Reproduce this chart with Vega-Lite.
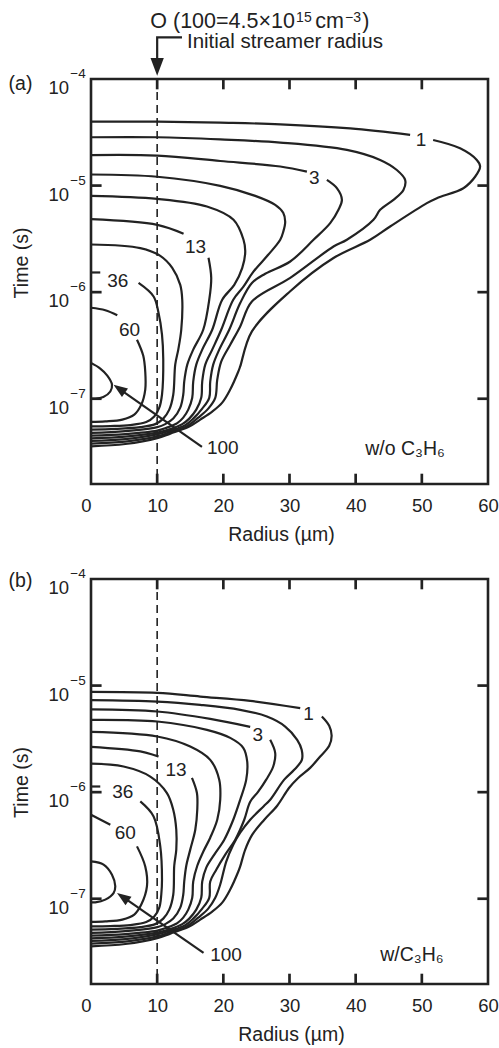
{
"$schema": "https://vega.github.io/schema/vega-lite/v6.json",
"autosize": {"type": "none"},
"padding": {"left": 91, "top": 79, "right": 408, "bottom": 969},
"background": "white",
"spacing": 95,
"bounds": "flush",
"config": {
  "view": {"stroke": "#222", "strokeWidth": 2.6},
  "font": "Liberation Sans",
  "axis": {"labelFont": "Liberation Sans", "titleFont": "Liberation Sans", "labelColor": "#222", "titleColor": "#222", "ticks": false, "domain": false, "grid": false, "titleFontWeight": "normal"}
},
"datasets": {
  "vl": [{"x": 10}],
  "ytk": [{"t": 1e-7}, {"t": 1e-6}, {"t": 1e-5}],
  "xtk": [{"x": 10}, {"x": 20}, {"x": 30}, {"x": 40}, {"x": 50}],
  "cont": [
{"p":"a","c":"a1-1","o":0,"x":0,"t":3.98e-5},{"p":"a","c":"a1-1","o":1,"x":10.02,"t":3.98e-5},{"p":"a","c":"a1-1","o":2,"x":19.53,"t":3.89e-5},{"p":"a","c":"a1-1","o":3,"x":28.6,"t":3.76e-5},{"p":"a","c":"a1-1","o":4,"x":39.17,"t":3.44e-5},{"p":"a","c":"a1-1","o":5,"x":48.23,"t":2.99e-5},
{"p":"a","c":"a1-2","o":0,"x":51.71,"t":2.68e-5},{"p":"a","c":"a1-2","o":1,"x":55.78,"t":2.24e-5},{"p":"a","c":"a1-2","o":2,"x":58.31,"t":1.74e-5},{"p":"a","c":"a1-2","o":3,"x":58.81,"t":1.51e-5},{"p":"a","c":"a1-2","o":4,"x":58.05,"t":1.21e-5},{"p":"a","c":"a1-2","o":5,"x":56.28,"t":9.45e-6},{"p":"a","c":"a1-2","o":6,"x":52.27,"t":7.62e-6},{"p":"a","c":"a1-2","o":7,"x":50.76,"t":6.84e-6},{"p":"a","c":"a1-2","o":8,"x":45.21,"t":4.13e-6},{"p":"a","c":"a1-2","o":9,"x":42.19,"t":3.10e-6},{"p":"a","c":"a1-2","o":10,"x":36.65,"t":2.09e-6},{"p":"a","c":"a1-2","o":11,"x":30.11,"t":1.02e-6},{"p":"a","c":"a1-2","o":12,"x":24.32,"t":4.28e-7},{"p":"a","c":"a1-2","o":13,"x":22.55,"t":2.01e-7},{"p":"a","c":"a1-2","o":14,"x":22.25,"t":1.79e-7},{"p":"a","c":"a1-2","o":15,"x":21.04,"t":1.22e-7},{"p":"a","c":"a1-2","o":16,"x":19.83,"t":9.19e-8},{"p":"a","c":"a1-2","o":17,"x":18.32,"t":7.57e-8},{"p":"a","c":"a1-2","o":18,"x":16.51,"t":6.37e-8},{"p":"a","c":"a1-2","o":19,"x":14.7,"t":5.42e-8},{"p":"a","c":"a1-2","o":20,"x":11.98,"t":4.71e-8},{"p":"a","c":"a1-2","o":21,"x":10.02,"t":4.27e-8},{"p":"a","c":"a1-2","o":22,"x":5.18,"t":3.76e-8},{"p":"a","c":"a1-2","o":23,"x":0,"t":3.58e-8},
{"p":"a","c":"a2","o":0,"x":0,"t":2.84e-5},{"p":"a","c":"a2","o":1,"x":10.02,"t":2.84e-5},{"p":"a","c":"a2","o":2,"x":19.53,"t":2.71e-5},{"p":"a","c":"a2","o":3,"x":28.6,"t":2.53e-5},{"p":"a","c":"a2","o":4,"x":38.67,"t":2.16e-5},{"p":"a","c":"a2","o":5,"x":43.7,"t":1.74e-5},{"p":"a","c":"a2","o":6,"x":46.22,"t":1.40e-5},{"p":"a","c":"a2","o":7,"x":47.48,"t":1.13e-5},{"p":"a","c":"a2","o":8,"x":47.22,"t":9.11e-6},{"p":"a","c":"a2","o":9,"x":45.71,"t":7.35e-6},{"p":"a","c":"a2","o":10,"x":43.7,"t":5.92e-6},{"p":"a","c":"a2","o":11,"x":42.69,"t":4.77e-6},{"p":"a","c":"a2","o":12,"x":38.67,"t":3.10e-6},{"p":"a","c":"a2","o":13,"x":36.65,"t":2.68e-6},{"p":"a","c":"a2","o":14,"x":30.11,"t":1.36e-6},{"p":"a","c":"a2","o":15,"x":24.32,"t":8.18e-7},{"p":"a","c":"a2","o":16,"x":22.55,"t":4.77e-7},{"p":"a","c":"a2","o":17,"x":21.04,"t":3.21e-7},{"p":"a","c":"a2","o":18,"x":19.68,"t":2.23e-7},{"p":"a","c":"a2","o":19,"x":19.08,"t":1.51e-7},{"p":"a","c":"a2","o":20,"x":18.78,"t":1.02e-7},{"p":"a","c":"a2","o":21,"x":17.72,"t":8.08e-8},{"p":"a","c":"a2","o":22,"x":16.21,"t":6.65e-8},{"p":"a","c":"a2","o":23,"x":14.55,"t":5.54e-8},{"p":"a","c":"a2","o":24,"x":11.98,"t":4.86e-8},{"p":"a","c":"a2","o":25,"x":10.02,"t":4.43e-8},{"p":"a","c":"a2","o":26,"x":5.18,"t":3.96e-8},{"p":"a","c":"a2","o":27,"x":0,"t":3.80e-8},
{"p":"a","c":"a3-1","o":0,"x":0,"t":1.93e-5},{"p":"a","c":"a3-1","o":1,"x":10.02,"t":1.91e-5},{"p":"a","c":"a3-1","o":2,"x":19.53,"t":1.70e-5},{"p":"a","c":"a3-1","o":3,"x":28.6,"t":1.51e-5},{"p":"a","c":"a3-1","o":4,"x":32.63,"t":1.35e-5},
{"p":"a","c":"a3-2","o":0,"x":35.65,"t":1.13e-5},{"p":"a","c":"a3-2","o":1,"x":37.16,"t":9.45e-6},{"p":"a","c":"a3-2","o":2,"x":37.92,"t":7.35e-6},{"p":"a","c":"a3-2","o":3,"x":37.4,"t":5.92e-6},{"p":"a","c":"a3-2","o":4,"x":36.15,"t":4.44e-6},{"p":"a","c":"a3-2","o":5,"x":33.63,"t":3.10e-6},{"p":"a","c":"a3-2","o":6,"x":30.11,"t":1.94e-6},{"p":"a","c":"a3-2","o":7,"x":26.33,"t":1.49e-6},{"p":"a","c":"a3-2","o":8,"x":24.32,"t":1.22e-6},{"p":"a","c":"a3-2","o":9,"x":22.55,"t":7.90e-7},{"p":"a","c":"a3-2","o":10,"x":20.89,"t":4.44e-7},{"p":"a","c":"a3-2","o":11,"x":19.38,"t":2.89e-7},{"p":"a","c":"a3-2","o":12,"x":18.47,"t":2.09e-7},{"p":"a","c":"a3-2","o":13,"x":18.02,"t":1.45e-7},{"p":"a","c":"a3-2","o":14,"x":17.87,"t":1.02e-7},{"p":"a","c":"a3-2","o":15,"x":16.81,"t":8.08e-8},{"p":"a","c":"a3-2","o":16,"x":15.45,"t":6.51e-8},{"p":"a","c":"a3-2","o":17,"x":14.24,"t":5.66e-8},{"p":"a","c":"a3-2","o":18,"x":11.98,"t":5.02e-8},{"p":"a","c":"a3-2","o":19,"x":10.02,"t":4.63e-8},{"p":"a","c":"a3-2","o":20,"x":5.18,"t":4.18e-8},{"p":"a","c":"a3-2","o":21,"x":0,"t":4.02e-8},
{"p":"a","c":"a4","o":0,"x":0,"t":1.27e-5},{"p":"a","c":"a4","o":1,"x":10.02,"t":1.21e-5},{"p":"a","c":"a4","o":2,"x":19.53,"t":9.94e-6},{"p":"a","c":"a4","o":3,"x":24.82,"t":8.01e-6},{"p":"a","c":"a4","o":4,"x":27.84,"t":6.59e-6},{"p":"a","c":"a4","o":5,"x":29.05,"t":5.55e-6},{"p":"a","c":"a4","o":6,"x":29.35,"t":4.57e-6},{"p":"a","c":"a4","o":7,"x":29.05,"t":3.68e-6},{"p":"a","c":"a4","o":8,"x":28.6,"t":3.10e-6},{"p":"a","c":"a4","o":9,"x":26.78,"t":2.24e-6},{"p":"a","c":"a4","o":10,"x":24.52,"t":1.55e-6},{"p":"a","c":"a4","o":11,"x":23.01,"t":1.12e-6},{"p":"a","c":"a4","o":12,"x":21.5,"t":8.49e-7},{"p":"a","c":"a4","o":13,"x":19.68,"t":4.44e-7},{"p":"a","c":"a4","o":14,"x":18.32,"t":2.89e-7},{"p":"a","c":"a4","o":15,"x":17.27,"t":2.09e-7},{"p":"a","c":"a4","o":16,"x":16.81,"t":1.45e-7},{"p":"a","c":"a4","o":17,"x":16.66,"t":1.02e-7},{"p":"a","c":"a4","o":18,"x":15.91,"t":7.90e-8},{"p":"a","c":"a4","o":19,"x":14.85,"t":6.51e-8},{"p":"a","c":"a4","o":20,"x":13.79,"t":5.78e-8},{"p":"a","c":"a4","o":21,"x":11.98,"t":5.19e-8},{"p":"a","c":"a4","o":22,"x":10.02,"t":4.81e-8},{"p":"a","c":"a4","o":23,"x":5.18,"t":4.41e-8},{"p":"a","c":"a4","o":24,"x":0,"t":4.25e-8},
{"p":"a","c":"a5","o":0,"x":0,"t":8.01e-6},{"p":"a","c":"a5","o":1,"x":10.02,"t":7.50e-6},{"p":"a","c":"a5","o":2,"x":17.52,"t":6.36e-6},{"p":"a","c":"a5","o":3,"x":21.54,"t":4.77e-6},{"p":"a","c":"a5","o":4,"x":23.05,"t":3.10e-6},{"p":"a","c":"a5","o":5,"x":23.31,"t":2.39e-6},{"p":"a","c":"a5","o":6,"x":22.86,"t":1.69e-6},{"p":"a","c":"a5","o":7,"x":21.65,"t":1.17e-6},{"p":"a","c":"a5","o":8,"x":19.83,"t":8.49e-7},{"p":"a","c":"a5","o":9,"x":18.32,"t":4.44e-7},{"p":"a","c":"a5","o":10,"x":16.81,"t":2.89e-7},{"p":"a","c":"a5","o":11,"x":15.91,"t":2.09e-7},{"p":"a","c":"a5","o":12,"x":15.45,"t":1.45e-7},{"p":"a","c":"a5","o":13,"x":15.3,"t":1.02e-7},{"p":"a","c":"a5","o":14,"x":14.7,"t":7.90e-8},{"p":"a","c":"a5","o":15,"x":13.94,"t":6.65e-8},{"p":"a","c":"a5","o":16,"x":13.04,"t":5.91e-8},{"p":"a","c":"a5","o":17,"x":11.37,"t":5.33e-8},{"p":"a","c":"a5","o":18,"x":10.02,"t":5.02e-8},{"p":"a","c":"a5","o":19,"x":5.18,"t":4.66e-8},{"p":"a","c":"a5","o":20,"x":0,"t":4.51e-8},
{"p":"a","c":"a6-1","o":0,"x":0,"t":4.84e-6},{"p":"a","c":"a6-1","o":1,"x":10.02,"t":4.28e-6},{"p":"a","c":"a6-1","o":2,"x":13.99,"t":3.53e-6},
{"p":"a","c":"a6-2","o":0,"x":17.76,"t":2.10e-6},{"p":"a","c":"a6-2","o":1,"x":18.17,"t":1.36e-6},{"p":"a","c":"a6-2","o":2,"x":17.87,"t":8.49e-7},{"p":"a","c":"a6-2","o":3,"x":16.96,"t":4.44e-7},{"p":"a","c":"a6-2","o":4,"x":15.45,"t":2.89e-7},{"p":"a","c":"a6-2","o":5,"x":14.55,"t":2.09e-7},{"p":"a","c":"a6-2","o":6,"x":14.09,"t":1.45e-7},{"p":"a","c":"a6-2","o":7,"x":13.94,"t":1.09e-7},{"p":"a","c":"a6-2","o":8,"x":13.49,"t":8.25e-8},{"p":"a","c":"a6-2","o":9,"x":12.43,"t":6.51e-8},{"p":"a","c":"a6-2","o":10,"x":11.22,"t":5.78e-8},{"p":"a","c":"a6-2","o":11,"x":10.02,"t":5.42e-8},{"p":"a","c":"a6-2","o":12,"x":5.18,"t":4.97e-8},{"p":"a","c":"a6-2","o":13,"x":0,"t":4.78e-8},
{"p":"a","c":"a7","o":0,"x":0,"t":2.80e-6},{"p":"a","c":"a7","o":1,"x":7.45,"t":2.59e-6},{"p":"a","c":"a7","o":2,"x":10.47,"t":2.19e-6},{"p":"a","c":"a7","o":3,"x":12.28,"t":1.69e-6},{"p":"a","c":"a7","o":4,"x":13.49,"t":1.17e-6},{"p":"a","c":"a7","o":5,"x":13.79,"t":8.49e-7},{"p":"a","c":"a7","o":6,"x":13.64,"t":4.44e-7},{"p":"a","c":"a7","o":7,"x":13.19,"t":2.89e-7},{"p":"a","c":"a7","o":8,"x":12.73,"t":2.09e-7},{"p":"a","c":"a7","o":9,"x":12.43,"t":1.09e-7},{"p":"a","c":"a7","o":10,"x":11.83,"t":7.90e-8},{"p":"a","c":"a7","o":11,"x":10.92,"t":6.51e-8},{"p":"a","c":"a7","o":12,"x":9.71,"t":5.78e-8},{"p":"a","c":"a7","o":13,"x":7.45,"t":5.42e-8},{"p":"a","c":"a7","o":14,"x":3.67,"t":5.21e-8},{"p":"a","c":"a7","o":15,"x":0,"t":5.13e-8},
{"p":"a","c":"a8-1","o":0,"x":0,"t":1.53e-6},{"p":"a","c":"a8-1","o":1,"x":1.4,"t":1.53e-6},
{"p":"a","c":"a8-2","o":0,"x":7.19,"t":1.22e-6},{"p":"a","c":"a8-2","o":1,"x":9.46,"t":9.11e-7},{"p":"a","c":"a8-2","o":2,"x":10.21,"t":6.37e-7},{"p":"a","c":"a8-2","o":3,"x":10.73,"t":3.99e-7},{"p":"a","c":"a8-2","o":4,"x":10.92,"t":2.33e-7},{"p":"a","c":"a8-2","o":5,"x":10.73,"t":1.09e-7},{"p":"a","c":"a8-2","o":6,"x":10.32,"t":8.25e-8},{"p":"a","c":"a8-2","o":7,"x":9.56,"t":6.80e-8},{"p":"a","c":"a8-2","o":8,"x":8.35,"t":6.04e-8},{"p":"a","c":"a8-2","o":9,"x":5.94,"t":5.66e-8},{"p":"a","c":"a8-2","o":10,"x":2.92,"t":5.54e-8},{"p":"a","c":"a8-2","o":11,"x":0,"t":5.51e-8},
{"p":"a","c":"a9-1","o":0,"x":0,"t":7.14e-7},{"p":"a","c":"a9-1","o":1,"x":2.16,"t":6.77e-7},{"p":"a","c":"a9-1","o":2,"x":3.97,"t":6.07e-7},
{"p":"a","c":"a9-2","o":0,"x":6.95,"t":3.58e-7},{"p":"a","c":"a9-2","o":1,"x":7.9,"t":2.53e-7},{"p":"a","c":"a9-2","o":2,"x":8.2,"t":1.79e-7},{"p":"a","c":"a9-2","o":3,"x":8.2,"t":1.22e-7},{"p":"a","c":"a9-2","o":4,"x":7.6,"t":8.81e-8},{"p":"a","c":"a9-2","o":5,"x":6.54,"t":7.10e-8},{"p":"a","c":"a9-2","o":6,"x":4.73,"t":6.37e-8},{"p":"a","c":"a9-2","o":7,"x":2.16,"t":6.13e-8},{"p":"a","c":"a9-2","o":8,"x":0,"t":6.06e-8},
{"p":"a","c":"a10","o":0,"x":0,"t":2.17e-7},{"p":"a","c":"a10","o":1,"x":1.4,"t":1.92e-7},{"p":"a","c":"a10","o":2,"x":2.46,"t":1.65e-7},{"p":"a","c":"a10","o":3,"x":3.17,"t":1.36e-7},{"p":"a","c":"a10","o":4,"x":2.92,"t":1.17e-7},{"p":"a","c":"a10","o":5,"x":1.86,"t":1.04e-7},{"p":"a","c":"a10","o":6,"x":0.65,"t":1.00e-7},{"p":"a","c":"a10","o":7,"x":0,"t":1.00e-7},
{"p":"b","c":"b1-1","o":0,"x":0,"t":8.73e-6},{"p":"b","c":"b1-1","o":1,"x":10.02,"t":8.54e-6},{"p":"b","c":"b1-1","o":2,"x":16.51,"t":7.89e-6},{"p":"b","c":"b1-1","o":3,"x":24.06,"t":7.19e-6},{"p":"b","c":"b1-1","o":4,"x":31.62,"t":6.14e-6},
{"p":"b","c":"b1-2","o":0,"x":34.89,"t":5.12e-6},{"p":"b","c":"b1-2","o":1,"x":36.0,"t":4.19e-6},{"p":"b","c":"b1-2","o":2,"x":36.37,"t":3.38e-6},{"p":"b","c":"b1-2","o":3,"x":36.0,"t":2.72e-6},{"p":"b","c":"b1-2","o":4,"x":34.64,"t":2.16e-6},{"p":"b","c":"b1-2","o":5,"x":33.12,"t":1.69e-6},{"p":"b","c":"b1-2","o":6,"x":31.31,"t":1.36e-6},{"p":"b","c":"b1-2","o":7,"x":29.95,"t":1.10e-6},{"p":"b","c":"b1-2","o":8,"x":28.14,"t":7.46e-7},{"p":"b","c":"b1-2","o":9,"x":26.19,"t":5.51e-7},{"p":"b","c":"b1-2","o":10,"x":24.37,"t":3.99e-7},{"p":"b","c":"b1-2","o":11,"x":23.31,"t":2.89e-7},{"p":"b","c":"b1-2","o":12,"x":22.55,"t":2.01e-7},{"p":"b","c":"b1-2","o":13,"x":22.25,"t":1.79e-7},{"p":"b","c":"b1-2","o":14,"x":21.04,"t":1.22e-7},{"p":"b","c":"b1-2","o":15,"x":19.83,"t":9.19e-8},{"p":"b","c":"b1-2","o":16,"x":18.32,"t":7.57e-8},{"p":"b","c":"b1-2","o":17,"x":16.51,"t":6.37e-8},{"p":"b","c":"b1-2","o":18,"x":14.7,"t":5.42e-8},{"p":"b","c":"b1-2","o":19,"x":11.98,"t":4.71e-8},{"p":"b","c":"b1-2","o":20,"x":10.02,"t":4.27e-8},{"p":"b","c":"b1-2","o":21,"x":5.18,"t":3.76e-8},{"p":"b","c":"b1-2","o":22,"x":0,"t":3.58e-8},
{"p":"b","c":"b2","o":0,"x":0,"t":7.30e-6},{"p":"b","c":"b2","o":1,"x":10.02,"t":7.08e-6},{"p":"b","c":"b2","o":2,"x":16.51,"t":6.59e-6},{"p":"b","c":"b2","o":3,"x":22.55,"t":5.92e-6},{"p":"b","c":"b2","o":4,"x":26.59,"t":5.12e-6},{"p":"b","c":"b2","o":5,"x":29.35,"t":4.13e-6},{"p":"b","c":"b2","o":6,"x":31.16,"t":3.10e-6},{"p":"b","c":"b2","o":7,"x":31.84,"t":2.50e-6},{"p":"b","c":"b2","o":8,"x":31.87,"t":2.01e-6},{"p":"b","c":"b2","o":9,"x":30.71,"t":1.62e-6},{"p":"b","c":"b2","o":10,"x":29.2,"t":1.31e-6},{"p":"b","c":"b2","o":11,"x":27.08,"t":8.49e-7},{"p":"b","c":"b2","o":12,"x":26.07,"t":7.35e-7},{"p":"b","c":"b2","o":13,"x":24.06,"t":5.51e-7},{"p":"b","c":"b2","o":14,"x":22.55,"t":4.16e-7},{"p":"b","c":"b2","o":15,"x":21.5,"t":3.21e-7},{"p":"b","c":"b2","o":16,"x":20.44,"t":2.23e-7},{"p":"b","c":"b2","o":17,"x":19.53,"t":1.36e-7},{"p":"b","c":"b2","o":18,"x":18.78,"t":1.02e-7},{"p":"b","c":"b2","o":19,"x":17.72,"t":8.08e-8},{"p":"b","c":"b2","o":20,"x":16.21,"t":6.65e-8},{"p":"b","c":"b2","o":21,"x":14.55,"t":5.54e-8},{"p":"b","c":"b2","o":22,"x":11.98,"t":4.86e-8},{"p":"b","c":"b2","o":23,"x":10.02,"t":4.43e-8},{"p":"b","c":"b2","o":24,"x":5.18,"t":3.96e-8},{"p":"b","c":"b2","o":25,"x":0,"t":3.80e-8},
{"p":"b","c":"b3-1","o":0,"x":0,"t":5.98e-6},{"p":"b","c":"b3-1","o":1,"x":10.02,"t":5.71e-6},{"p":"b","c":"b3-1","o":2,"x":18.02,"t":4.87e-6},{"p":"b","c":"b3-1","o":3,"x":24.06,"t":4.10e-6},
{"p":"b","c":"b3-2","o":0,"x":27.08,"t":3.10e-6},{"p":"b","c":"b3-2","o":1,"x":27.84,"t":2.33e-6},{"p":"b","c":"b3-2","o":2,"x":27.54,"t":1.74e-6},{"p":"b","c":"b3-2","o":3,"x":26.48,"t":1.31e-6},{"p":"b","c":"b3-2","o":4,"x":25.27,"t":1.01e-6},{"p":"b","c":"b3-2","o":5,"x":24.06,"t":8.13e-7},{"p":"b","c":"b3-2","o":6,"x":23.16,"t":5.51e-7},{"p":"b","c":"b3-2","o":7,"x":21.8,"t":3.58e-7},{"p":"b","c":"b3-2","o":8,"x":20.29,"t":2.59e-7},{"p":"b","c":"b3-2","o":9,"x":18.93,"t":1.87e-7},{"p":"b","c":"b3-2","o":10,"x":18.02,"t":1.45e-7},{"p":"b","c":"b3-2","o":11,"x":17.87,"t":1.02e-7},{"p":"b","c":"b3-2","o":12,"x":16.81,"t":8.08e-8},{"p":"b","c":"b3-2","o":13,"x":15.45,"t":6.51e-8},{"p":"b","c":"b3-2","o":14,"x":14.24,"t":5.66e-8},{"p":"b","c":"b3-2","o":15,"x":11.98,"t":5.02e-8},{"p":"b","c":"b3-2","o":16,"x":10.02,"t":4.63e-8},{"p":"b","c":"b3-2","o":17,"x":5.18,"t":4.18e-8},{"p":"b","c":"b3-2","o":18,"x":0,"t":4.02e-8},
{"p":"b","c":"b4","o":0,"x":0,"t":4.77e-6},{"p":"b","c":"b4","o":1,"x":10.02,"t":4.60e-6},{"p":"b","c":"b4","o":2,"x":17.52,"t":3.84e-6},{"p":"b","c":"b4","o":3,"x":21.04,"t":3.23e-6},{"p":"b","c":"b4","o":4,"x":23.01,"t":2.61e-6},{"p":"b","c":"b4","o":5,"x":23.61,"t":1.93e-6},{"p":"b","c":"b4","o":6,"x":23.46,"t":1.31e-6},{"p":"b","c":"b4","o":7,"x":22.55,"t":8.49e-7},{"p":"b","c":"b4","o":8,"x":21.5,"t":5.51e-7},{"p":"b","c":"b4","o":9,"x":20.14,"t":3.58e-7},{"p":"b","c":"b4","o":10,"x":18.63,"t":2.59e-7},{"p":"b","c":"b4","o":11,"x":17.42,"t":1.96e-7},{"p":"b","c":"b4","o":12,"x":16.81,"t":1.45e-7},{"p":"b","c":"b4","o":13,"x":16.66,"t":1.02e-7},{"p":"b","c":"b4","o":14,"x":15.91,"t":7.90e-8},{"p":"b","c":"b4","o":15,"x":14.85,"t":6.51e-8},{"p":"b","c":"b4","o":16,"x":13.79,"t":5.78e-8},{"p":"b","c":"b4","o":17,"x":11.98,"t":5.19e-8},{"p":"b","c":"b4","o":18,"x":10.02,"t":4.81e-8},{"p":"b","c":"b4","o":19,"x":5.18,"t":4.41e-8},{"p":"b","c":"b4","o":20,"x":0,"t":4.25e-8},
{"p":"b","c":"b5","o":0,"x":0,"t":3.68e-6},{"p":"b","c":"b5","o":1,"x":10.02,"t":3.33e-6},{"p":"b","c":"b5","o":2,"x":15.0,"t":2.68e-6},{"p":"b","c":"b5","o":3,"x":18.02,"t":2.01e-6},{"p":"b","c":"b5","o":4,"x":19.38,"t":1.31e-6},{"p":"b","c":"b5","o":5,"x":19.53,"t":8.49e-7},{"p":"b","c":"b5","o":6,"x":19.08,"t":5.51e-7},{"p":"b","c":"b5","o":7,"x":18.02,"t":3.74e-7},{"p":"b","c":"b5","o":8,"x":16.96,"t":2.76e-7},{"p":"b","c":"b5","o":9,"x":16.06,"t":2.04e-7},{"p":"b","c":"b5","o":10,"x":15.45,"t":1.45e-7},{"p":"b","c":"b5","o":11,"x":15.3,"t":1.02e-7},{"p":"b","c":"b5","o":12,"x":14.7,"t":7.90e-8},{"p":"b","c":"b5","o":13,"x":13.94,"t":6.65e-8},{"p":"b","c":"b5","o":14,"x":13.04,"t":5.91e-8},{"p":"b","c":"b5","o":15,"x":11.37,"t":5.33e-8},{"p":"b","c":"b5","o":16,"x":10.02,"t":5.02e-8},{"p":"b","c":"b5","o":17,"x":5.18,"t":4.66e-8},{"p":"b","c":"b5","o":18,"x":0,"t":4.51e-8},
{"p":"b","c":"b6-1","o":0,"x":0,"t":2.66e-6},{"p":"b","c":"b6-1","o":1,"x":7.45,"t":2.41e-6},{"p":"b","c":"b6-1","o":2,"x":10.21,"t":2.16e-6},
{"p":"b","c":"b6-2","o":0,"x":15.26,"t":1.36e-6},{"p":"b","c":"b6-2","o":1,"x":16.01,"t":9.81e-7},{"p":"b","c":"b6-2","o":2,"x":16.06,"t":6.84e-7},{"p":"b","c":"b6-2","o":3,"x":15.76,"t":4.44e-7},{"p":"b","c":"b6-2","o":4,"x":15.0,"t":2.89e-7},{"p":"b","c":"b6-2","o":5,"x":14.4,"t":2.04e-7},{"p":"b","c":"b6-2","o":6,"x":14.09,"t":1.45e-7},{"p":"b","c":"b6-2","o":7,"x":13.94,"t":1.09e-7},{"p":"b","c":"b6-2","o":8,"x":13.49,"t":8.25e-8},{"p":"b","c":"b6-2","o":9,"x":12.43,"t":6.51e-8},{"p":"b","c":"b6-2","o":10,"x":11.22,"t":5.78e-8},{"p":"b","c":"b6-2","o":11,"x":10.02,"t":5.42e-8},{"p":"b","c":"b6-2","o":12,"x":5.18,"t":4.97e-8},{"p":"b","c":"b6-2","o":13,"x":0,"t":4.78e-8},
{"p":"b","c":"b7","o":0,"x":0,"t":1.85e-6},{"p":"b","c":"b7","o":1,"x":4.92,"t":1.74e-6},{"p":"b","c":"b7","o":2,"x":8.96,"t":1.40e-6},{"p":"b","c":"b7","o":3,"x":11.48,"t":9.81e-7},{"p":"b","c":"b7","o":4,"x":12.43,"t":6.84e-7},{"p":"b","c":"b7","o":5,"x":12.89,"t":4.44e-7},{"p":"b","c":"b7","o":6,"x":12.89,"t":2.89e-7},{"p":"b","c":"b7","o":7,"x":12.58,"t":2.04e-7},{"p":"b","c":"b7","o":8,"x":12.43,"t":1.09e-7},{"p":"b","c":"b7","o":9,"x":11.83,"t":7.90e-8},{"p":"b","c":"b7","o":10,"x":10.92,"t":6.51e-8},{"p":"b","c":"b7","o":11,"x":9.71,"t":5.78e-8},{"p":"b","c":"b7","o":12,"x":7.45,"t":5.42e-8},{"p":"b","c":"b7","o":13,"x":3.67,"t":5.21e-8},{"p":"b","c":"b7","o":14,"x":0,"t":5.13e-8},
{"p":"b","c":"b8-1","o":0,"x":0,"t":1.13e-6},{"p":"b","c":"b8-1","o":1,"x":1.4,"t":1.13e-6},
{"p":"b","c":"b8-2","o":0,"x":7.45,"t":8.18e-7},{"p":"b","c":"b8-2","o":1,"x":9.46,"t":5.92e-7},{"p":"b","c":"b8-2","o":2,"x":10.47,"t":3.10e-7},{"p":"b","c":"b8-2","o":3,"x":10.73,"t":1.51e-7},{"p":"b","c":"b8-2","o":4,"x":10.62,"t":1.09e-7},{"p":"b","c":"b8-2","o":5,"x":10.32,"t":8.25e-8},{"p":"b","c":"b8-2","o":6,"x":9.56,"t":6.80e-8},{"p":"b","c":"b8-2","o":7,"x":8.35,"t":6.04e-8},{"p":"b","c":"b8-2","o":8,"x":5.94,"t":5.66e-8},{"p":"b","c":"b8-2","o":9,"x":2.92,"t":5.54e-8},{"p":"b","c":"b8-2","o":10,"x":0,"t":5.51e-8},
{"p":"b","c":"b9-1","o":0,"x":0,"t":6.14e-7},{"p":"b","c":"b9-1","o":1,"x":2.92,"t":4.95e-7},
{"p":"b","c":"b9-2","o":0,"x":6.95,"t":3.10e-7},{"p":"b","c":"b9-2","o":1,"x":8.2,"t":2.01e-7},{"p":"b","c":"b9-2","o":2,"x":8.46,"t":1.31e-7},{"p":"b","c":"b9-2","o":3,"x":7.6,"t":8.81e-8},{"p":"b","c":"b9-2","o":4,"x":6.54,"t":7.10e-8},{"p":"b","c":"b9-2","o":5,"x":4.73,"t":6.37e-8},{"p":"b","c":"b9-2","o":6,"x":2.16,"t":6.13e-8},{"p":"b","c":"b9-2","o":7,"x":0,"t":6.06e-8},
{"p":"b","c":"b10","o":0,"x":0,"t":2.24e-7},{"p":"b","c":"b10","o":1,"x":1.9,"t":2.09e-7},{"p":"b","c":"b10","o":2,"x":3.17,"t":1.68e-7},{"p":"b","c":"b10","o":3,"x":3.67,"t":1.31e-7},{"p":"b","c":"b10","o":4,"x":3.41,"t":1.13e-7},{"p":"b","c":"b10","o":5,"x":2.16,"t":9.81e-8},{"p":"b","c":"b10","o":6,"x":0.65,"t":9.25e-8},{"p":"b","c":"b10","o":7,"x":0,"t":9.25e-8}
  ],
  "lab": [
{"p":"a","s":"1","x":49.89,"t":2.70e-5},{"p":"a","s":"3","x":33.76,"t":1.19e-5},{"p":"a","s":"13","x":15.79,"t":2.66e-6},{"p":"a","s":"36","x":4.05,"t":1.27e-6},{"p":"a","s":"60","x":5.82,"t":4.44e-7},{"p":"a","s":"100","x":19.91,"t":3.46e-8},
{"p":"b","s":"1","x":32.87,"t":5.41e-6},{"p":"b","s":"3","x":25.2,"t":3.43e-6},{"p":"b","s":"13","x":12.86,"t":1.63e-6},{"p":"b","s":"36","x":4.8,"t":9.98e-7},{"p":"b","s":"60","x":5.18,"t":4.14e-7},{"p":"b","s":"100","x":20.41,"t":2.94e-8}
  ],
  "expo": [
{"s":"−4","x":-3.13,"t":1e-4},{"s":"−5","x":-3.13,"t":1e-5},{"s":"−6","x":-3.13,"t":1e-6},{"s":"−7","x":-3.13,"t":1e-7}
  ],
  "ptxt": [
{"p":"a","s":"(a)","x":-12.45,"t":7.89e-5},{"p":"a","s":"w/o C₃H₆","x":41.44,"t":2.99e-8},
{"p":"b","s":"(b)","x":-12.45,"t":8.47e-5},{"p":"b","s":"w/C₃H₆","x":43.7,"t":2.59e-8}
  ],
  "ann": [
{"s":"O (100=4.5×10","x":8.96,"t":3.04e-4},{"s":"cm","x":33.9,"t":3.04e-4},{"s":")","x":41.0,"t":3.04e-4}
  ],
  "ann2": [
{"s":"Initial streamer radius","x":14.5,"t":1.96e-4}
  ],
  "annsup": [
{"s":"15","x":31.0,"t":3.39e-4},{"s":"−3","x":38.4,"t":3.39e-4}
  ],
  "arr": [
{"p":"a","a":"top","o":0,"x":13.75,"t":2.46e-4},{"p":"a","a":"top","o":1,"x":10,"t":2.46e-4},{"p":"a","a":"top","o":2,"x":10,"t":1.44e-4},
{"p":"a","a":"h","o":0,"x":16.77,"t":3.53e-8},{"p":"a","a":"h","o":1,"x":4.27,"t":1.24e-7},
{"p":"b","a":"h","o":0,"x":17.01,"t":3.10e-8},{"p":"b","a":"h","o":1,"x":4.8,"t":1.04e-7}
  ],
  "head": [
{"p":"a","k":"down","x":10,"t":1.30e-4},{"p":"a","k":"diag","x":4.27,"t":1.24e-7},{"p":"b","k":"diag","x":4.8,"t":1.04e-7}
  ]
},
"vconcat": [
{
  "width": 397, "height": 405,
  "resolve": {"axis": {"x": "independent", "y": "independent"}},
  "layer": [
    {"data": {"name": "cont"}, "transform": [{"filter": "datum.p === 'a'"}],
     "mark": {"type": "line", "color": "#222", "strokeWidth": 2.2, "interpolate": "catmull-rom"},
     "encoding": {
       "x": {"field": "x", "type": "quantitative", "scale": {"domain": [0, 60], "nice": false, "zero": false},
             "axis": {"orient": "bottom", "values": [0,10,20,30,40,50,60], "labelPadding": 12, "labelFlush": false, "labelFontSize": 18.5, "labelOffset": {"condition": {"test": "datum.value == 0", "value": -5}, "value": 0}, "title": "Radius (µm)", "titleFontSize": 19.5, "titleX": 190, "titleY": 56, "titleBaseline": "alphabetic"}},
       "y": {"field": "t", "type": "quantitative", "scale": {"type": "log", "domain": [1.585e-8, 1e-4], "nice": false},
             "axis": {"orient": "left", "values": [1e-7, 1e-6, 1e-5, 1e-4], "labelPadding": 22.4, "labelBaseline": "alphabetic", "labelOffset": 14.5, "labelFontSize": 18.5, "labelExpr": "'10'", "title": "Time (s)", "titleFontSize": 19.5, "titleX": -63.7, "titleY": 183.5, "titleBaseline": "alphabetic"}},
       "detail": {"field": "c"},
       "order": {"field": "o", "type": "quantitative"}
     }},
    {"data": {"name": "vl"},
     "mark": {"type": "rule", "color": "#222", "strokeWidth": 1.6, "strokeDash": [8, 5]},
     "encoding": {"x": {"field": "x", "type": "quantitative", "scale": {"domain": [0, 60], "nice": false, "zero": false}, "axis": null}}},
    {"data": {"name": "ytk"},
     "mark": {"type": "rule", "color": "#222", "strokeWidth": 2.7},
     "encoding": {
       "y": {"field": "t", "type": "quantitative", "scale": {"type": "log", "domain": [1.585e-8, 1e-4], "nice": false}, "axis": null},
       "x": {"datum": 0, "type": "quantitative", "scale": {"domain": [0, 60], "nice": false, "zero": false}, "axis": null},
       "x2": {"datum": 1.6}}},
    {"data": {"name": "ytk"},
     "mark": {"type": "rule", "color": "#222", "strokeWidth": 2.7},
     "encoding": {
       "y": {"field": "t", "type": "quantitative", "scale": {"type": "log", "domain": [1.585e-8, 1e-4], "nice": false}, "axis": null},
       "x": {"datum": 58.4, "type": "quantitative", "scale": {"domain": [0, 60], "nice": false, "zero": false}, "axis": null},
       "x2": {"datum": 60}}},
    {"data": {"name": "xtk"},
     "mark": {"type": "rule", "color": "#222", "strokeWidth": 2.7},
     "encoding": {
       "x": {"field": "x", "type": "quantitative", "scale": {"domain": [0, 60], "nice": false, "zero": false}, "axis": null},
       "y": {"datum": 1e-4, "type": "quantitative", "scale": {"type": "log", "domain": [1.585e-8, 1e-4], "nice": false}, "axis": null},
       "y2": {"datum": 8.0e-5}}},
    {"data": {"name": "xtk"},
     "mark": {"type": "rule", "color": "#222", "strokeWidth": 2.7},
     "encoding": {
       "x": {"field": "x", "type": "quantitative", "scale": {"domain": [0, 60], "nice": false, "zero": false}, "axis": null},
       "y": {"datum": 1.585e-8, "type": "quantitative", "scale": {"type": "log", "domain": [1.585e-8, 1e-4], "nice": false}, "axis": null},
       "y2": {"datum": 1.98e-8}}},
    {"data": {"name": "lab"}, "transform": [{"filter": "datum.p === 'a'"}],
     "mark": {"type": "text", "font": "Liberation Sans", "fontSize": 19, "color": "#222", "align": "center", "baseline": "middle"},
     "encoding": {
       "x": {"field": "x", "type": "quantitative", "scale": {"domain": [0, 60], "nice": false, "zero": false}, "axis": null},
       "y": {"field": "t", "type": "quantitative", "scale": {"type": "log", "domain": [1.585e-8, 1e-4], "nice": false}, "axis": null},
       "text": {"field": "s"}}},
    {"data": {"name": "expo"},
     "mark": {"type": "text", "font": "Liberation Sans", "fontSize": 13.5, "color": "#222", "align": "left", "baseline": "alphabetic", "dy": -1},
     "encoding": {
       "x": {"field": "x", "type": "quantitative", "scale": {"domain": [0, 60], "nice": false, "zero": false}, "axis": null},
       "y": {"field": "t", "type": "quantitative", "scale": {"type": "log", "domain": [1.585e-8, 1e-4], "nice": false}, "axis": null},
       "text": {"field": "s"}}},
    {"data": {"name": "ptxt"}, "transform": [{"filter": "datum.p === 'a'"}],
     "mark": {"type": "text", "font": "Liberation Sans", "fontSize": 19.5, "color": "#222", "align": "left", "baseline": "alphabetic"},
     "encoding": {
       "x": {"field": "x", "type": "quantitative", "scale": {"domain": [0, 60], "nice": false, "zero": false}, "axis": null},
       "y": {"field": "t", "type": "quantitative", "scale": {"type": "log", "domain": [1.585e-8, 1e-4], "nice": false}, "axis": null},
       "text": {"field": "s"}}},
    {"data": {"name": "ann"},
     "mark": {"type": "text", "font": "Liberation Sans", "fontSize": 21.5, "color": "#222", "align": "left", "baseline": "alphabetic"},
     "encoding": {
       "x": {"field": "x", "type": "quantitative", "scale": {"domain": [0, 60], "nice": false, "zero": false}, "axis": null},
       "y": {"field": "t", "type": "quantitative", "scale": {"type": "log", "domain": [1.585e-8, 1e-4], "nice": false}, "axis": null},
       "text": {"field": "s"}}},
    {"data": {"name": "ann2"},
     "mark": {"type": "text", "font": "Liberation Sans", "fontSize": 20.5, "color": "#222", "align": "left", "baseline": "alphabetic"},
     "encoding": {
       "x": {"field": "x", "type": "quantitative", "scale": {"domain": [0, 60], "nice": false, "zero": false}, "axis": null},
       "y": {"field": "t", "type": "quantitative", "scale": {"type": "log", "domain": [1.585e-8, 1e-4], "nice": false}, "axis": null},
       "text": {"field": "s"}}},
    {"data": {"name": "annsup"},
     "mark": {"type": "text", "font": "Liberation Sans", "fontSize": 14, "color": "#222", "align": "left", "baseline": "alphabetic"},
     "encoding": {
       "x": {"field": "x", "type": "quantitative", "scale": {"domain": [0, 60], "nice": false, "zero": false}, "axis": null},
       "y": {"field": "t", "type": "quantitative", "scale": {"type": "log", "domain": [1.585e-8, 1e-4], "nice": false}, "axis": null},
       "text": {"field": "s"}}},
    {"data": {"name": "arr"}, "transform": [{"filter": "datum.p === 'a'"}],
     "mark": {"type": "line", "color": "#222", "strokeWidth": 2.2},
     "encoding": {
       "x": {"field": "x", "type": "quantitative", "scale": {"domain": [0, 60], "nice": false, "zero": false}, "axis": null},
       "y": {"field": "t", "type": "quantitative", "scale": {"type": "log", "domain": [1.585e-8, 1e-4], "nice": false}, "axis": null},
       "detail": {"field": "a"},
       "order": {"field": "o", "type": "quantitative"}}},
    {"data": {"name": "head"}, "transform": [{"filter": "datum.p === 'a' && datum.k === 'down'"}],
     "mark": {"type": "point", "shape": "M-0.75,-1L0.75,-1L0,1Z", "filled": true, "color": "#222", "opacity": 1, "size": 313, "angle": 0},
     "encoding": {
       "x": {"field": "x", "type": "quantitative", "scale": {"domain": [0, 60], "nice": false, "zero": false}, "axis": null},
       "y": {"field": "t", "type": "quantitative", "scale": {"type": "log", "domain": [1.585e-8, 1e-4], "nice": false}, "axis": null}}},
    {"data": {"name": "head"}, "transform": [{"filter": "datum.p === 'a' && datum.k === 'diag'"}],
     "mark": {"type": "point", "shape": "M-0.75,-1L0.75,-1L0,1Z", "filled": true, "color": "#222", "opacity": 1, "size": 196, "angle": 125},
     "encoding": {
       "x": {"field": "x", "type": "quantitative", "scale": {"domain": [0, 60], "nice": false, "zero": false}, "axis": null},
       "y": {"field": "t", "type": "quantitative", "scale": {"type": "log", "domain": [1.585e-8, 1e-4], "nice": false}, "axis": null}}}
  ]
},
{
  "width": 397, "height": 405,
  "resolve": {"axis": {"x": "independent", "y": "independent"}},
  "layer": [
    {"data": {"name": "cont"}, "transform": [{"filter": "datum.p === 'b'"}],
     "mark": {"type": "line", "color": "#222", "strokeWidth": 2.2, "interpolate": "catmull-rom"},
     "encoding": {
       "x": {"field": "x", "type": "quantitative", "scale": {"domain": [0, 60], "nice": false, "zero": false},
             "axis": {"orient": "bottom", "values": [0,10,20,30,40,50,60], "labelPadding": 12, "labelFlush": false, "labelFontSize": 18.5, "labelOffset": {"condition": {"test": "datum.value == 0", "value": -5}, "value": 0}, "title": "Radius (µm)", "titleFontSize": 19.5, "titleX": 200, "titleY": 56, "titleBaseline": "alphabetic"}},
       "y": {"field": "t", "type": "quantitative", "scale": {"type": "log", "domain": [1.585e-8, 1e-4], "nice": false},
             "axis": {"orient": "left", "values": [1e-7, 1e-6, 1e-5, 1e-4], "labelPadding": 22.4, "labelBaseline": "alphabetic", "labelOffset": 14.5, "labelFontSize": 18.5, "labelExpr": "'10'", "title": "Time (s)", "titleFontSize": 19.5, "titleX": -63.7, "titleY": 203, "titleBaseline": "alphabetic"}},
       "detail": {"field": "c"},
       "order": {"field": "o", "type": "quantitative"}
     }},
    {"data": {"name": "vl"},
     "mark": {"type": "rule", "color": "#222", "strokeWidth": 1.6, "strokeDash": [8, 5]},
     "encoding": {"x": {"field": "x", "type": "quantitative", "scale": {"domain": [0, 60], "nice": false, "zero": false}, "axis": null}}},
    {"data": {"name": "ytk"},
     "mark": {"type": "rule", "color": "#222", "strokeWidth": 2.7},
     "encoding": {
       "y": {"field": "t", "type": "quantitative", "scale": {"type": "log", "domain": [1.585e-8, 1e-4], "nice": false}, "axis": null},
       "x": {"datum": 0, "type": "quantitative", "scale": {"domain": [0, 60], "nice": false, "zero": false}, "axis": null},
       "x2": {"datum": 1.6}}},
    {"data": {"name": "ytk"},
     "mark": {"type": "rule", "color": "#222", "strokeWidth": 2.7},
     "encoding": {
       "y": {"field": "t", "type": "quantitative", "scale": {"type": "log", "domain": [1.585e-8, 1e-4], "nice": false}, "axis": null},
       "x": {"datum": 58.4, "type": "quantitative", "scale": {"domain": [0, 60], "nice": false, "zero": false}, "axis": null},
       "x2": {"datum": 60}}},
    {"data": {"name": "xtk"},
     "mark": {"type": "rule", "color": "#222", "strokeWidth": 2.7},
     "encoding": {
       "x": {"field": "x", "type": "quantitative", "scale": {"domain": [0, 60], "nice": false, "zero": false}, "axis": null},
       "y": {"datum": 1e-4, "type": "quantitative", "scale": {"type": "log", "domain": [1.585e-8, 1e-4], "nice": false}, "axis": null},
       "y2": {"datum": 8.0e-5}}},
    {"data": {"name": "xtk"},
     "mark": {"type": "rule", "color": "#222", "strokeWidth": 2.7},
     "encoding": {
       "x": {"field": "x", "type": "quantitative", "scale": {"domain": [0, 60], "nice": false, "zero": false}, "axis": null},
       "y": {"datum": 1.585e-8, "type": "quantitative", "scale": {"type": "log", "domain": [1.585e-8, 1e-4], "nice": false}, "axis": null},
       "y2": {"datum": 1.98e-8}}},
    {"data": {"name": "lab"}, "transform": [{"filter": "datum.p === 'b'"}],
     "mark": {"type": "text", "font": "Liberation Sans", "fontSize": 19, "color": "#222", "align": "center", "baseline": "middle"},
     "encoding": {
       "x": {"field": "x", "type": "quantitative", "scale": {"domain": [0, 60], "nice": false, "zero": false}, "axis": null},
       "y": {"field": "t", "type": "quantitative", "scale": {"type": "log", "domain": [1.585e-8, 1e-4], "nice": false}, "axis": null},
       "text": {"field": "s"}}},
    {"data": {"name": "expo"},
     "mark": {"type": "text", "font": "Liberation Sans", "fontSize": 13.5, "color": "#222", "align": "left", "baseline": "alphabetic", "dy": -1},
     "encoding": {
       "x": {"field": "x", "type": "quantitative", "scale": {"domain": [0, 60], "nice": false, "zero": false}, "axis": null},
       "y": {"field": "t", "type": "quantitative", "scale": {"type": "log", "domain": [1.585e-8, 1e-4], "nice": false}, "axis": null},
       "text": {"field": "s"}}},
    {"data": {"name": "ptxt"}, "transform": [{"filter": "datum.p === 'b'"}],
     "mark": {"type": "text", "font": "Liberation Sans", "fontSize": 19.5, "color": "#222", "align": "left", "baseline": "alphabetic"},
     "encoding": {
       "x": {"field": "x", "type": "quantitative", "scale": {"domain": [0, 60], "nice": false, "zero": false}, "axis": null},
       "y": {"field": "t", "type": "quantitative", "scale": {"type": "log", "domain": [1.585e-8, 1e-4], "nice": false}, "axis": null},
       "text": {"field": "s"}}},
    {"data": {"name": "arr"}, "transform": [{"filter": "datum.p === 'b'"}],
     "mark": {"type": "line", "color": "#222", "strokeWidth": 2.2},
     "encoding": {
       "x": {"field": "x", "type": "quantitative", "scale": {"domain": [0, 60], "nice": false, "zero": false}, "axis": null},
       "y": {"field": "t", "type": "quantitative", "scale": {"type": "log", "domain": [1.585e-8, 1e-4], "nice": false}, "axis": null},
       "detail": {"field": "a"},
       "order": {"field": "o", "type": "quantitative"}}},
    {"data": {"name": "head"}, "transform": [{"filter": "datum.p === 'b' && datum.k === 'diag'"}],
     "mark": {"type": "point", "shape": "M-0.75,-1L0.75,-1L0,1Z", "filled": true, "color": "#222", "opacity": 1, "size": 196, "angle": 125},
     "encoding": {
       "x": {"field": "x", "type": "quantitative", "scale": {"domain": [0, 60], "nice": false, "zero": false}, "axis": null},
       "y": {"field": "t", "type": "quantitative", "scale": {"type": "log", "domain": [1.585e-8, 1e-4], "nice": false}, "axis": null}}}
  ]
}
]
}
